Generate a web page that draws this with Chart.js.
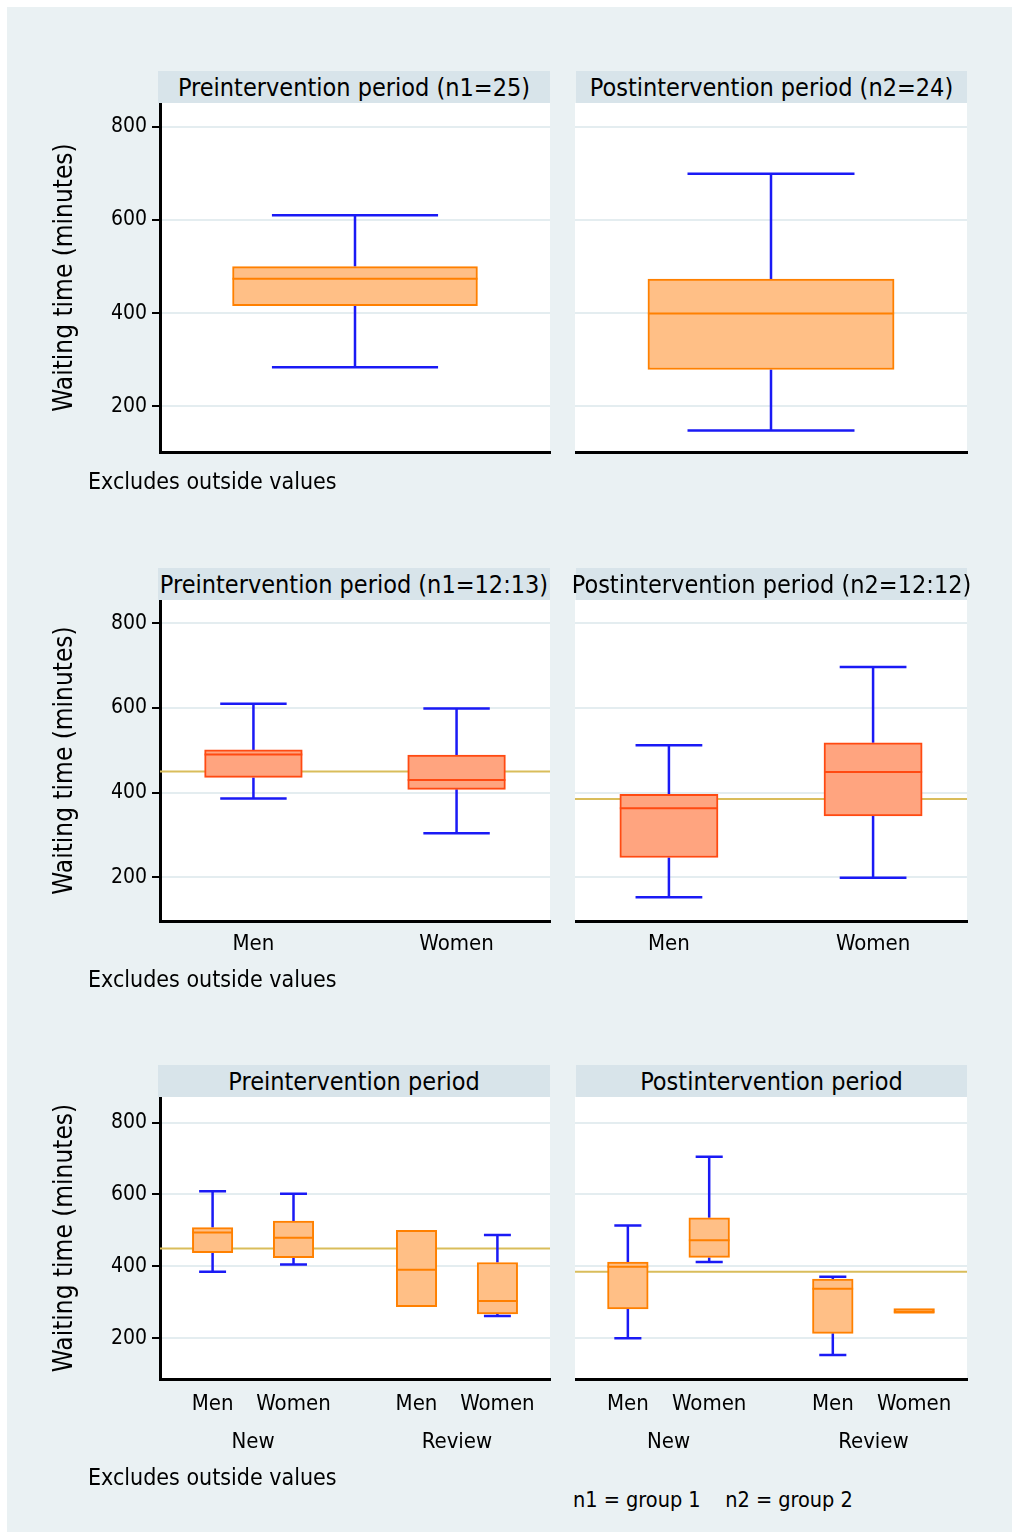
<!DOCTYPE html>
<html>
<head>
<meta charset="utf-8">
<title>Waiting time box plots</title>
<script src="https://cdn.jsdelivr.net/npm/chart.js@4.4.1/dist/chart.umd.min.js"></script>
<style>
  body { margin: 0; background: #fff; font-family: 'DejaVu Sans Condensed', 'DejaVu Sans', sans-serif; color: #000; }
  #frame { position: absolute; left: 7px; top: 7px; width: 1005px; height: 1525px; background: #eaf1f3; }
  .strip { position: absolute; background: #d8e4ea; display: flex; align-items: center; justify-content: center; white-space: nowrap; font-size: 25px; }
  .note { position: absolute; white-space: pre; font-size: 23px; line-height: 1; transform: translateY(-50%); }
  canvas { position: absolute; }
</style>
</head>
<body>
<div id="frame"></div>
<script>
// 1. Values (minutes): [lower whisker, Q1, median, Q3, upper whisker]
const yTicks = [200, 400, 600, 800];
const sexLabels = ['Men', 'Women'];
const typeLabels = ['New', 'Review'];

const periodTitles = ['Preintervention period (n1=25)', 'Postintervention period (n2=24)'];
const sexTitles = ['Preintervention period (n1=12:13)', 'Postintervention period (n2=12:12)'];
const typeTitles = ['Preintervention period', 'Postintervention period'];

const allPre = [[284, 416, 474, 500, 610]];
const allPost = [[148, 279, 399, 473, 699]];

const sexPre = [[386, 436, 490, 501, 610], [304, 408, 430, 489, 599]];
const sexPost = [[153, 247, 363, 396, 512], [199, 345, 449, 518, 697]];

// New-Men, New-Women, Review-Men, Review-Women
const typePre = [[385, 438, 494, 508, 609], [405, 424, 480, 526, 602], [288, 288, 391, 500, 500], [262, 268, 304, 411, 487]];
const typePost = [[200, 282, 399, 412, 514], [412, 425, 473, 535, 705], [154, 214, 338, 365, 371], [272, 272, 272, 272, 272]];

const medianLines = [450, 385]; // pre, post

const noteText = 'Excludes outside values';
const groupNote = 'n1 = group 1    n2 = group 2';

// 2. Layout of the three rows
const FONT = "'DejaVu Sans Condensed', 'DejaVu Sans', sans-serif";
const cols = [{ left: 160, right: 550 }, { left: 575, right: 967 }];
const rows = [
  { top: 103, bottom: 452, yMin: 102, yMax: 851, xMin: 0.5, xMax: 1.5, xs: [1], boxW: 0.628, capW: 0.426,
    fill: '#ffbf86', edge: '#ff8000', titles: periodTitles, sets: [allPre, allPost], refs: null, noteY: 481 },
  { top: 600, bottom: 921, yMin: 97, yMax: 855, xMin: 0.54, xMax: 2.46, xs: [1, 2], boxW: 0.481, capW: 0.327,
    fill: '#ffa47f', edge: '#ff4a12', titles: sexTitles, sets: [sexPre, sexPost], refs: medianLines, noteY: 979,
    ticks: sexLabels, tickPad: 10 },
  { top: 1097, bottom: 1379, yMin: 87, yMax: 871, xMin: 0.35, xMax: 5.17, xs: [1, 2, 3.52, 4.52], boxW: 0.5, capW: 0.333,
    fill: '#ffbf86', edge: '#ff8000', titles: typeTitles, sets: [typePre, typePost], refs: medianLines, noteY: 1477,
    ticks: sexLabels.concat(sexLabels), tickPad: 12, groups: typeLabels, groupXs: [1.5, 4.02] }
];

function addDiv(cls, text, css) {
  const d = document.createElement('div');
  d.className = cls;
  d.textContent = text;
  Object.assign(d.style, css);
  document.body.appendChild(d);
  return d;
}

const whitePlot = {
  id: 'whitePlot',
  beforeDraw(chart) {
    const { ctx, chartArea: a } = chart;
    ctx.save();
    ctx.fillStyle = '#fff';
    ctx.fillRect(a.left, a.top, a.right - a.left, a.bottom - a.top);
    ctx.restore();
  }
};

// 3. Box plot pieces as datasets
function whiskerPoints(boxes, xs, half) {
  const pts = [];
  boxes.forEach((b, i) => {
    const x = xs[i];
    if (b[4] > b[3]) {
      pts.push({ x, y: b[3] }, { x, y: b[4] }, { x, y: null });
      pts.push({ x: x - half, y: b[4] }, { x: x + half, y: b[4] }, { x, y: null });
    }
    if (b[0] < b[1]) {
      pts.push({ x, y: b[1] }, { x, y: b[0] }, { x, y: null });
      pts.push({ x: x - half, y: b[0] }, { x: x + half, y: b[0] }, { x, y: null });
    }
  });
  return pts;
}

function medianPoints(boxes, xs, half) {
  const pts = [];
  boxes.forEach((b, i) => {
    pts.push({ x: xs[i] - half, y: b[2] }, { x: xs[i] + half, y: b[2] }, { x: xs[i], y: null });
  });
  return pts;
}

function makePanel(row, c) {
  const col = cols[c];
  const left = c === 0;
  const plotW = col.right - col.left;
  const boxPx = row.boxW * plotW / (row.xMax - row.xMin);
  const boxes = row.sets[c];
  const padTop = 25;
  const axisH = row.ticks ? 40 : 0;
  const groupH = row.groups ? 42 : 0;
  const padBottom = row.ticks ? 5 : 25;

  const canvas = document.createElement('canvas');
  const x0 = left ? 0 : col.left;
  canvas.width = col.right + 10 - x0;
  canvas.height = padTop + (row.bottom - row.top) + axisH + groupH + padBottom;
  canvas.style.left = x0 + 'px';
  canvas.style.top = (row.top - padTop) + 'px';
  document.body.appendChild(canvas);

  const datasets = [];
  if (row.refs) {
    datasets.push({
      type: 'line', order: 4,
      data: [{ x: row.xMin, y: row.refs[c] }, { x: row.xMax, y: row.refs[c] }],
      borderColor: '#d9bd5b', borderWidth: 2, pointRadius: 0
    });
  }
  datasets.push({
    type: 'line', order: 3,
    data: whiskerPoints(boxes, row.xs, row.capW / 2),
    borderColor: '#1a1af5', borderWidth: 2.5, pointRadius: 0, spanGaps: false
  });
  datasets.push({
    type: 'bar', order: 2,
    data: boxes.map((b, i) => ({ x: row.xs[i], y: [b[1], b[3]] })),
    // a box with no spread collapses to a solid bar in the edge colour
    backgroundColor: boxes.map(b => (b[1] === b[3] ? row.edge : row.fill)),
    borderColor: row.edge, borderWidth: 2,
    borderSkipped: false, grouped: false, barThickness: boxPx, minBarLength: 4
  });
  datasets.push({
    type: 'line', order: 1,
    data: medianPoints(boxes, row.xs, row.boxW / 2),
    borderColor: row.edge, borderWidth: 2, pointRadius: 0, spanGaps: false
  });

  const scales = {
    x: {
      type: 'linear', min: row.xMin, max: row.xMax, offset: false, weight: 0,
      grid: { display: false, drawTicks: false },
      border: { color: '#000', width: 3 },
      afterBuildTicks: s => { s.ticks = row.ticks ? row.xs.map(v => ({ value: v })) : []; },
      afterFit: s => { s.height = axisH; },
      ticks: {
        display: !!row.ticks, autoSkip: false, maxRotation: 0, padding: row.tickPad || 8, color: '#000',
        font: { family: FONT, size: 22 },
        callback: (v, i) => row.ticks ? row.ticks[i] : ''
      }
    },
    y: {
      min: row.yMin, max: row.yMax,
      afterBuildTicks: s => { s.ticks = yTicks.map(v => ({ value: v })); },
      afterFit: s => { s.width = left ? col.left : 0; },
      grid: { color: '#e4edf0', lineWidth: 2, drawTicks: left, tickLength: 8, tickColor: '#000', tickWidth: 2 },
      border: { display: left, color: '#000', width: 3 },
      ticks: { display: left, padding: 5, color: '#000', font: { family: FONT, size: 21 } },
      title: {
        display: left, text: 'Waiting time (minutes)', color: '#000',
        font: { family: FONT, size: 26 }, padding: { top: 50, bottom: 0 }
      }
    }
  };
  if (row.groups) {
    scales.x2 = {
      type: 'linear', position: 'bottom', min: row.xMin, max: row.xMax, offset: false, weight: 1,
      grid: { display: false, drawTicks: false }, border: { display: false },
      afterBuildTicks: s => { s.ticks = row.groupXs.map(v => ({ value: v })); },
      afterFit: s => { s.height = groupH; },
      ticks: {
        autoSkip: false, maxRotation: 0, padding: 10, color: '#000',
        font: { family: FONT, size: 22 },
        callback: (v, i) => row.groups[i]
      }
    };
  }

  new Chart(canvas.getContext('2d'), {
    type: 'bar',
    data: { datasets },
    options: {
      responsive: false,
      animation: false,
      layout: { padding: { top: padTop, right: 10, bottom: padBottom, left: 0 } },
      plugins: { legend: { display: false }, tooltip: { enabled: false } },
      scales
    },
    plugins: [whitePlot]
  });

  // panel heading strip
  addDiv('strip', row.titles[c], {
    left: (left ? 158 : 576) + 'px', width: (left ? 392 : 391) + 'px',
    top: (row.top - 32) + 'px', height: '32px'
  });
}

rows.forEach(row => {
  makePanel(row, 0);
  makePanel(row, 1);
  addDiv('note', noteText, { left: '88px', top: row.noteY + 'px' });
});
addDiv('note', groupNote, { left: '573px', top: '1500px', fontSize: '21.5px' });
</script>
</body>
</html>
